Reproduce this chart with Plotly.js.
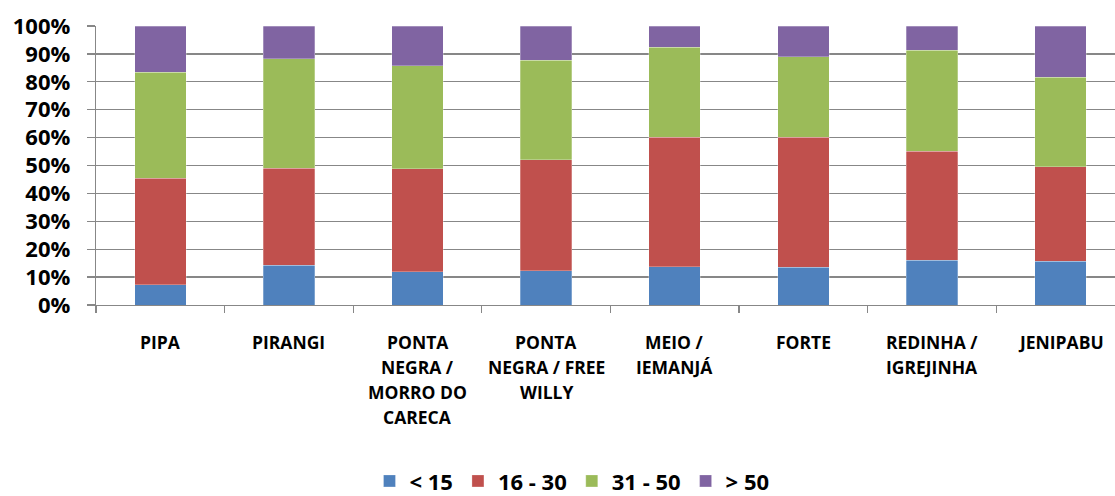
<!DOCTYPE html>
<html>
<head>
<meta charset="utf-8">
<script src="https://cdn.plot.ly/plotly-3.0.1.min.js"></script>
<style>
  html, body { margin: 0; padding: 0; background: #ffffff; }
  #chart { width: 1115px; height: 496px; }
</style>
</head>
<body>
<div id="chart"></div>
<script>
// Categories (beaches) and their label lines
const categories = ["PIPA", "PIRANGI", "PONTA NEGRA / MORRO DO CARECA", "PONTA NEGRA / FREE WILLY",
                    "MEIO / IEMANJÁ", "FORTE", "REDINHA / IGREJINHA", "JENIPABU"];
const labelLines = [
  ["PIPA"],
  ["PIRANGI"],
  ["PONTA", "NEGRA /", "MORRO DO", "CARECA"],
  ["PONTA", "NEGRA / FREE", "WILLY"],
  ["MEIO /", "IEMANJÁ"],
  ["FORTE"],
  ["REDINHA /", "IGREJINHA"],
  ["JENIPABU"]
];

// Series (percent of total)
const seriesNames = ["< 15", "16 - 30", "31 - 50", "> 50"];
const lt15    = [7.3, 14.2, 12.0, 12.2, 13.8, 13.6, 16.1, 15.7];
const s16_30  = [38.2, 34.9, 36.8, 39.8, 46.3, 46.6, 39.0, 33.9];
const s31_50  = [37.9, 39.2, 37.0, 35.7, 32.3, 28.8, 36.2, 32.0];
const gt50    = [16.6, 11.7, 14.2, 12.3, 7.6, 11.0, 8.7, 18.4];
const colors  = ["#4F81BD", "#C0504D", "#9BBB59", "#8064A2"];

const yTickVals = [0, 10, 20, 30, 40, 50, 60, 70, 80, 90, 100];
const yTickText = ["0%", "10%", "20%", "30%", "40%", "50%", "60%", "70%", "80%", "90%", "100%"];

const FONT = "Open Sans, Liberation Sans, sans-serif";
const allSeries = [lt15, s16_30, s31_50, gt50];

const traces = allSeries.map((vals, i) => ({
  type: "bar",
  name: seriesNames[i],
  x: categories,
  y: vals,
  marker: { color: colors[i], line: { color: "rgba(255,255,255,0.45)", width: 0.6 } },
  hoverinfo: "x+y+name"
}));

const annotations = [];
labelLines.forEach((lines, ci) => {
  lines.forEach((txt, li) => {
    annotations.push({
      x: categories[ci], xref: "x", y: 0, yref: "paper",
      yanchor: "middle", xanchor: "center",
      yshift: -(37 + 25 * li),
      text: txt, showarrow: false,
      font: { family: FONT, size: 17.5, color: "#000000", weight: 700 }
    });
  });
});

const plotW = 1115 - 96;
const catPx = 128.6;

const layout = {
  width: 1115, height: 496,
  margin: { l: 96, r: 0, t: 26, b: 191, pad: 0 },
  paper_bgcolor: "#ffffff", plot_bgcolor: "#ffffff",
  barmode: "stack",
  bargap: 0.6,
  showlegend: true,
  legend: {
    orientation: "h", xref: "container", yref: "container",
    x: 0.513, xanchor: "center", y: 0.03, yanchor: "middle",
    font: { family: FONT, size: 22, color: "#000000", weight: 700 },
    traceorder: "normal", itemwidth: 30
  },
  xaxis: {
    type: "category",
    range: [-0.5, -0.5 + plotW / catPx],
    showticklabels: false,
    ticks: "outside", tickson: "boundaries", ticklen: 7, tickcolor: "#878787", tickwidth: 1.3,
    showline: true, linecolor: "#878787", linewidth: 1.3,
    showgrid: false, zeroline: false, fixedrange: true
  },
  yaxis: {
    range: [0, 100],
    tickvals: yTickVals, ticktext: yTickText,
    ticks: "outside", ticklen: 8, tickcolor: "#878787", tickwidth: 1.3,
    ticklabelstandoff: 12,
    showline: true, linecolor: "#878787", linewidth: 1.3,
    showgrid: true, gridcolor: "#878787", gridwidth: 1.3,
    zeroline: false, fixedrange: true,
    tickfont: { family: FONT, size: 22, color: "#000000", weight: 700 }
  },
  annotations: annotations
};

Plotly.newPlot("chart", traces, layout, { displayModeBar: false, staticPlot: true });
</script>
</body>
</html>
